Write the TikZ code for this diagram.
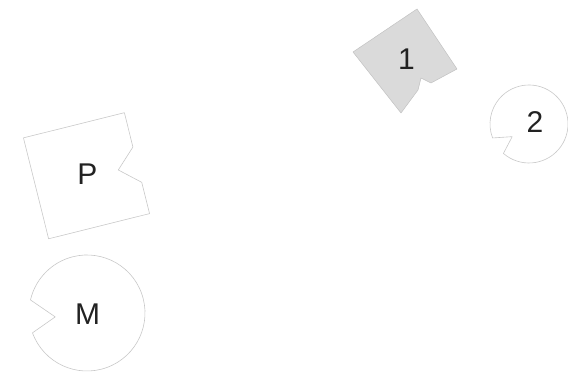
\documentclass[tikz,border=0pt]{standalone}
\usepackage{fontspec}
\setmainfont{Liberation Sans}
\usetikzlibrary{calc}
\definecolor{edgegray}{HTML}{C8C8C8}
\definecolor{fillgray}{HTML}{DADADA}
\definecolor{darkedge}{HTML}{C2C2C2}
\definecolor{txt}{HTML}{222222}
\begin{document}
\begin{tikzpicture}[x=1pt,y=1pt,
  piece/.style={draw=edgegray, line width=0.6pt, line join=round},
  darkpiece/.style={draw=darkedge, fill=fillgray, line width=0.5pt, line join=round},
  lbl/.style={text=txt, font=\fontsize{30}{36}\selectfont, inner sep=0pt}]
\useasboundingbox (0,0) rectangle (568,374);
% square piece 1 (gray)
\path[darkpiece] (417,365) -- (457,305) -- (431,291) -- (421,296) -- (418,284) -- (401,261) -- (353,322) -- cycle;
% square piece P
\begin{scope}[shift={(86.5,198.25)}, rotate=14, scale=104]
  \path[piece] (-0.5,-0.5) -- (0.5,-0.5) -- (0.5,-0.19) -- (0.31,-0.02) -- (0.5,0.16) -- (0.5,0.5) -- (-0.5,0.5) -- cycle;
\end{scope}
% round piece M
\coordinate (mc) at (87,61);
\draw[piece] (mc) ++(200:58) arc[start angle=200, end angle=527, radius=58] -- ($(mc)+(187:32)$) -- cycle;
% round piece 2
\coordinate (tc) at (529,250);
\draw[piece] (tc) ++(229:39) arc[start angle=229, end angle=561, radius=39] -- ($(tc)+(217:21)$) -- cycle;
% labels
\node[lbl] (l1) at (406.5,314.5) {1};
\node[lbl] (l2) at (535,251.5) {2};
\node[lbl] (lp) at (87.5,199.5) {P};
\node[lbl] (lm) at (87.5,60) {M};
\end{tikzpicture}
\end{document}
